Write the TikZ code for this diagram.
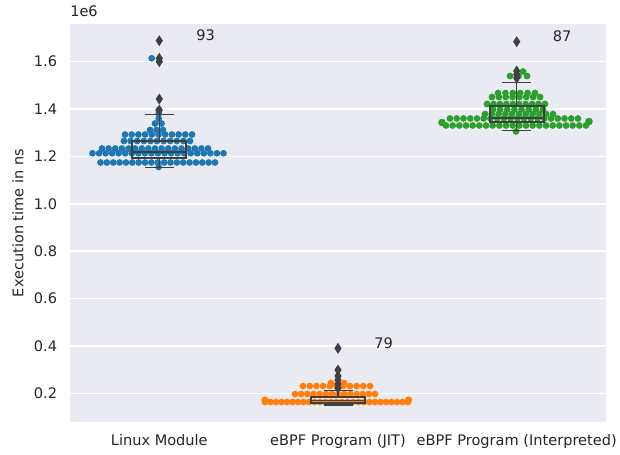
\documentclass[tikz,border=0pt]{standalone}
\usepackage{fontspec}
\setmainfont{DejaVu Sans}

\definecolor{panel}{HTML}{EAEAF2}
\definecolor{ink}{HTML}{262626}
\definecolor{boxline}{HTML}{3F3F3F}
\definecolor{linuxblue}{HTML}{1F77B4}
\definecolor{jitorange}{HTML}{FF7F0E}
\definecolor{interpgreen}{HTML}{2CA02C}

\tikzset{
  ticklabel/.style={font=\fontsize{10.35}{12}\selectfont, text=ink, inner sep=0pt},
  boxedge/.style={draw=boxline, line width=1.4pt},
  whisker/.style={draw=boxline, line width=1.1pt},
}

% one row of swarm points: colour, y, first x, last x, count
\newcommand{\swarmrow}[5]{%
  \foreach \k in {1,...,#5}
    \fill[#1] ({#3+(\k-1)*(#4-#3)/(#5-1)},#2) circle[radius=2.4pt];}
% outlier marker (thin diamond)
\newcommand{\flier}[2]{%
  \fill[boxline] (#1,#2-5.5) -- (#1+3.6,#2) -- (#1,#2+5.5) -- (#1-3.6,#2) -- cycle;}
% box with whiskers: centre x, q1 y, median y, q3 y, low y, high y
\newcommand{\boxwhisk}[6]{%
  \draw[whisker] (#1,#4) -- (#1,#6) (#1-14.5,#6) -- (#1+14.5,#6);
  \draw[whisker] (#1,#2) -- (#1,#5) (#1-14.5,#5) -- (#1+14.5,#5);
  \draw[boxedge] (#1-27,#4) rectangle (#1+27,#2);
  \draw[boxedge] (#1-27,#3) -- (#1+27,#3);}

\begin{document}
\begin{tikzpicture}[x=0.025cm, y=-0.025cm]
  \useasboundingbox (0,0) rectangle (620,455);
  \fill[panel] (70,24) rectangle (606,422);

  % horizontal grid and y tick labels
  \foreach \v [count=\i] in {0.2,0.4,0.6,0.8,1.0,1.2,1.4,1.6} {
    \draw[white, line width=1pt] (70,{440.7-236.9*\v}) -- (606,{440.7-236.9*\v});
    \node[ticklabel, anchor=east] (ytick\i) at (57.3,{440.7-236.9*\v}) {\v};
  }
  \node[ticklabel, anchor=base west] (scale) at (70,16.5) {1e6};
  \node[ticklabel, rotate=90, anchor=base] (ylabel) at (23.3,223) {Execution time in ns};

  % category labels
  \node[ticklabel, anchor=base] (linux) at (159.3,445.7) {Linux Module};
  \node[ticklabel, anchor=base] (jit) at (338,445.7) {eBPF Program (JIT)};
  \node[ticklabel, anchor=base] (interp) at (516.7,445.7) {eBPF Program (Interpreted)};

  % Linux module swarm
  \swarmrow{linuxblue}{162.5}{100.5}{215}{19}
  \swarmrow{linuxblue}{153.3}{92.5}{223.5}{21}
  \swarmrow{linuxblue}{148.5}{102}{208}{17}
  \swarmrow{linuxblue}{141}{124}{190}{11}
  \swarmrow{linuxblue}{134.5}{125}{192}{11}
  \swarmrow{linuxblue}{130}{150}{163}{3}
  \swarmrow{linuxblue}{123.5}{155}{161.5}{2}
  \foreach \y in {167,118.5,113.5,110} {
    \fill[linuxblue] (158.7,\y) circle[radius=2.4pt];
  }
  \fill[linuxblue] (151.7,58.3) circle[radius=2.4pt];

  % JIT swarm
  \swarmrow{jitorange}{402}{265}{408}{27}
  \swarmrow{jitorange}{394}{295}{375}{14}
  \swarmrow{jitorange}{386}{303}{370}{11}
  \swarmrow{jitorange}{383}{331}{344}{2}
  \fill[jitorange] (265,400) circle[radius=2.6pt] (408.5,400) circle[radius=2.6pt];

  % interpreted swarm
  \swarmrow{interpgreen}{125.5}{446}{586}{22}
  \swarmrow{interpgreen}{118.5}{450}{578}{20}
  \swarmrow{interpgreen}{114}{485}{553}{11}
  \swarmrow{interpgreen}{109.5}{493}{543}{8}
  \swarmrow{interpgreen}{104}{487}{545}{10}
  \swarmrow{interpgreen}{97}{492}{540}{8}
  \swarmrow{interpgreen}{93}{498}{535}{6}
  \swarmrow{interpgreen}{76}{510}{527}{3}
  \fill[interpgreen] (516,131.5) circle[radius=2.4pt] (523,71.5) circle[radius=2.4pt];
  \fill[interpgreen] (442,122.5) circle[radius=2.7pt] (589,121.5) circle[radius=2.7pt];

  % boxes and outliers
  \boxwhisk{159.3}{157.7}{152.3}{140.7}{167.3}{114.7}
  \boxwhisk{338}{403.3}{400.5}{397.3}{405}{390.7}
  \boxwhisk{516.7}{121.7}{118.3}{105.7}{130.7}{82.3}
  \foreach \y in {40.7,58.3,61.7,99,110} {\flier{159.3}{\y}}
  \foreach \y in {348.3,370,376,380,384,388} {\flier{338}{\y}}
  \foreach \y in {41.7,71,74.5,78} {\flier{516.7}{\y}}

  % sample counts
  \node[ticklabel, anchor=base west] (nlinux) at (196,40.7) {93};
  \node[ticklabel, anchor=base west] (ninterp) at (552.7,41.3) {87};
  \node[ticklabel, anchor=base west] (njit) at (374,348) {79};
\end{tikzpicture}
\end{document}
